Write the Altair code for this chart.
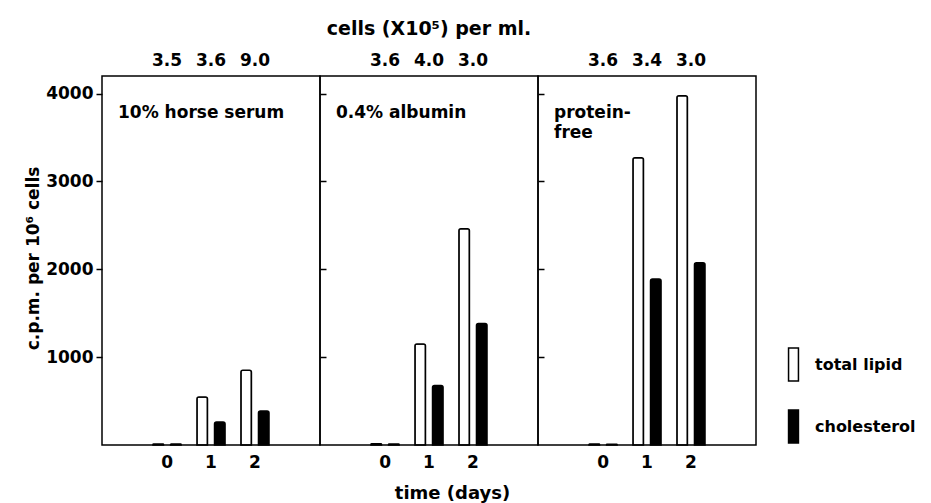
import altair as alt
import pandas as pd

# ---- data ----
panel_titles = ["10% horse serum", "0.4% albumin", "protein-\nfree"]
days = [0, 1, 2]
series = ["total lipid", "cholesterol"]
total_lipid = [[12, 545, 852], [15, 1151, 2460], [10, 3270, 3975]]
cholesterol = [[10, 261, 386], [12, 678, 1383], [8, 1890, 2075]]
cell_counts = [["3.5", "3.6", "9.0"], ["3.6", "4.0", "3.0"], ["3.6", "3.4", "3.0"]]
y_ticks = [1000, 2000, 3000, 4000]
y_max = 4200

FONT = "DejaVu Sans"
FS = 17
W, H = 218, 369

x_scale = alt.Scale(domain=days, paddingInner=0, paddingOuter=0.98)
xoff_scale = alt.Scale(domain=series, paddingInner=0.4, paddingOuter=0.45)
y_scale = alt.Scale(domain=[0, y_max], nice=False)
fill_scale = alt.Scale(domain=series, range=["white", "black"])


def make_panel(i):
    bars_df = pd.DataFrame({
        "day": days * 2,
        "series": [series[0]] * 3 + [series[1]] * 3,
        "value": total_lipid[i] + cholesterol[i],
    })
    cells_df = pd.DataFrame({"day": days, "cells": cell_counts[i]})
    title_df = pd.DataFrame({"label": [panel_titles[i]]})

    if i == 1:
        x_axis = alt.Axis(title="time (days)", labelAngle=0, ticks=False, domain=False,
                          labelPadding=9, titleX=132, titleY=48, titleBaseline="middle",
                          titleFontSize=18)
    else:
        x_axis = alt.Axis(title=None, labelAngle=0, ticks=False, domain=False, labelPadding=9)
    x_enc = alt.X("day:O", scale=x_scale, axis=x_axis)

    if i == 0:
        y_axis = alt.Axis(title="c.p.m. per 10\u2076 cells", values=y_ticks, orient="left",
                          format="d", tickSize=6, domain=False, labelPadding=3, grid=False,
                          titleX=-69, titleY=182, titleAngle=270, titleAlign="center",
                          titleBaseline="middle", titleFontSize=17)
    else:
        y_axis = None

    if i == 2:
        legend = alt.Legend(title=None, orient="none", legendX=238, legendY=271,
                            symbolType="M-0.3,-1L0.3,-1L0.3,1L-0.3,1Z", symbolSize=1089,
                            symbolStrokeColor="black", symbolStrokeWidth=1.5,
                            rowPadding=23, labelOffset=4, padding=0,
                            labelFont=FONT, labelFontSize=16, labelFontWeight="bold",
                            labelColor="black")
    else:
        legend = None

    bars = alt.Chart(bars_df).mark_bar(stroke="black", strokeWidth=1.5,
                                       cornerRadiusTopLeft=2, cornerRadiusTopRight=2).encode(
        x=x_enc,
        xOffset=alt.XOffset("series:N", scale=xoff_scale, sort=series),
        y=alt.Y("value:Q", scale=y_scale, axis=y_axis),
        fill=alt.Fill("series:N", scale=fill_scale, legend=legend, sort=series),
    )

    layers = [bars]

    if i < 2:
        right_ticks = alt.Chart(bars_df).mark_bar(opacity=0).encode(
            x=x_enc,
            xOffset=alt.XOffset("series:N", scale=xoff_scale, sort=series),
            y=alt.Y("value:Q", scale=y_scale,
                    axis=alt.Axis(orient="right", values=y_ticks, labels=False, tickSize=6,
                                  domain=False, title=None, grid=False)),
        )
        layers.append(right_ticks)

    cells_txt = alt.Chart(cells_df).mark_text(font=FONT, fontSize=FS, fontWeight="bold",
                                              color="black", baseline="middle").encode(
        x=x_enc,
        y=alt.value(-15),
        text="cells:N",
    )
    layers.append(cells_txt)

    title_txt = alt.Chart(title_df).mark_text(font=FONT, fontSize=FS, fontWeight="bold",
                                              color="black", align="left", baseline="top",
                                              lineBreak="\n", lineHeight=20).encode(
        x=alt.value(16),
        y=alt.value(29),
        text="label:N",
    )
    layers.append(title_txt)

    return alt.layer(*layers).properties(width=W, height=H).resolve_axis(y="independent")


chart = alt.hconcat(make_panel(0), make_panel(1), make_panel(2), spacing=0, bounds="flush").properties(
    title=alt.TitleParams("cells (X10\u2075) per ml.", anchor="start", frame="group", align="center",
                          dx=327, font=FONT, fontSize=19, fontWeight="bold", color="black",
                          offset=12),
    padding={"left": 15, "top": 12, "right": 0, "bottom": 0},
).resolve_scale(fill="independent").resolve_legend(fill="independent").configure_view(
    stroke="black", strokeWidth=1.5
).configure_axis(
    labelFont=FONT, labelFontSize=FS, labelFontWeight="bold", labelColor="black",
    titleFont=FONT, titleFontSize=FS, titleFontWeight="bold", titleColor="black",
    tickColor="black", tickWidth=1.5,
)

chart.save("out.html", embed_options={"renderer": "svg", "actions": False})
